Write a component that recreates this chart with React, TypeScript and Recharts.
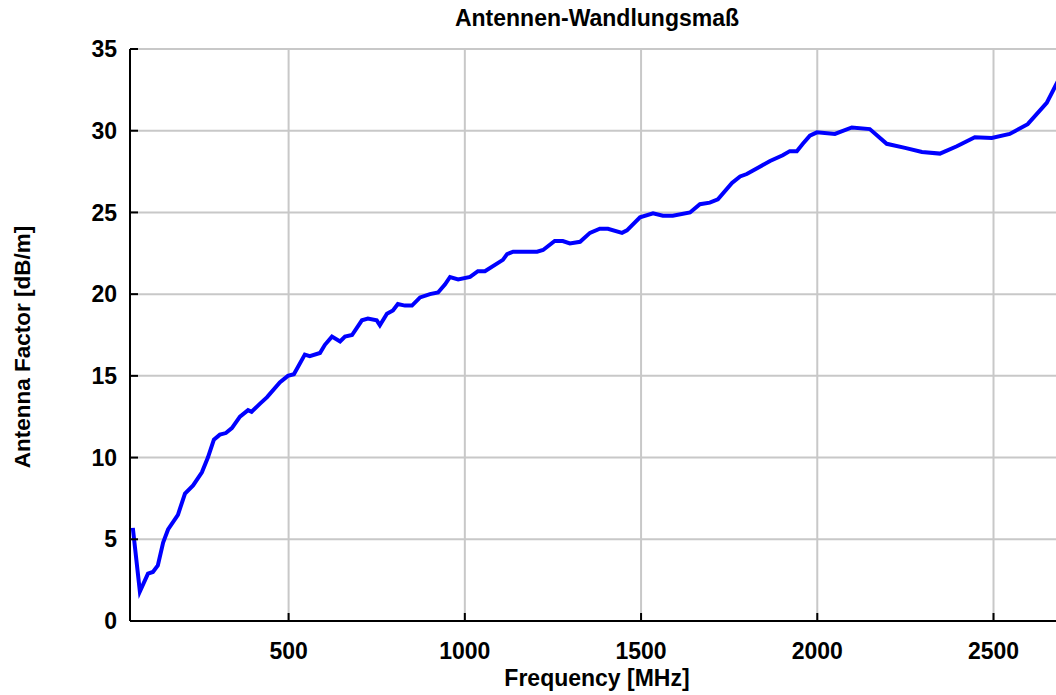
import { LineChart, Line, XAxis, YAxis, CartesianGrid } from "recharts";

const frequencies = [
  58, 78, 101, 115, 129, 144, 158, 186, 206, 229, 254, 271, 288, 305, 322, 339,
  362, 385, 395, 419, 439, 475, 498, 515, 546, 560, 589, 603, 623, 646, 660, 680,
  708, 725, 750, 759, 779, 796, 810, 830, 850, 873, 901, 924, 944, 958, 981,
  1015, 1037, 1057, 1108, 1120, 1137, 1205, 1222, 1255, 1278, 1298, 1327, 1355,
  1383, 1406, 1446, 1460, 1497, 1534, 1562, 1590, 1639, 1667, 1695, 1718, 1758,
  1781, 1800, 1837, 1866, 1902, 1922, 1942, 1959, 1979, 1999, 2050, 2098, 2149,
  2197, 2249, 2297, 2348, 2396, 2447, 2495, 2546, 2597, 2651, 2677, 2700,
];

const antennaFactor = [
  5.7, 1.8, 2.9, 3.0, 3.4, 4.8, 5.6, 6.5, 7.8, 8.3, 9.1, 10.0, 11.1, 11.4, 11.5,
  11.8, 12.5, 12.9, 12.8, 13.3, 13.7, 14.6, 15.0, 15.1, 16.3, 16.2, 16.4, 16.9,
  17.4, 17.1, 17.4, 17.5, 18.4, 18.5, 18.4, 18.1, 18.8, 19.0, 19.4, 19.3, 19.3,
  19.8, 20.0, 20.1, 20.6, 21.05, 20.9, 21.05, 21.4, 21.4, 22.1, 22.45, 22.6,
  22.6, 22.7, 23.25, 23.25, 23.1, 23.2, 23.75, 24.0, 24.0, 23.75, 23.9, 24.7,
  24.95, 24.8, 24.8, 25.0, 25.5, 25.6, 25.8, 26.8, 27.2, 27.35, 27.8, 28.15,
  28.5, 28.75, 28.75, 29.2, 29.7, 29.9, 29.8, 30.2, 30.1, 29.2, 28.95, 28.7,
  28.6, 29.05, 29.6, 29.55, 29.8, 30.4, 31.7, 32.8, 33.7,
];

const xTicks = [500, 1000, 1500, 2000, 2500];
const yTicks = [0, 5, 10, 15, 20, 25, 30, 35];

const data = frequencies.map((f, i) => ({ f, af: antennaFactor[i] }));

const tickStyle = { fontSize: 23, fontWeight: 700, fill: "#000" };

export default function App() {
  return (
    <div
      style={{
        position: "absolute",
        left: 0,
        top: 0,
        width: 1056,
        height: 695,
        overflow: "hidden",
        background: "#fff",
        fontFamily: "'Liberation Sans', Arial, sans-serif",
      }}
    >
      <div
        style={{
          position: "absolute",
          left: 130,
          top: 5,
          width: 934,
          textAlign: "center",
          fontSize: 23,
          fontWeight: 700,
          color: "#000",
        }}
      >
        Antennen-Wandlungsmaß
      </div>
      <LineChart
        width={1080}
        height={695}
        data={data}
        margin={{ top: 49, right: 16, left: 0, bottom: 0 }}
      >
        <CartesianGrid stroke="#c8c8c8" strokeWidth={2} />
        <XAxis
          xAxisId="top"
          orientation="top"
          dataKey="f"
          type="number"
          domain={[50, 2700]}
          ticks={xTicks}
          height={0}
          allowDataOverflow
          axisLine={{ stroke: "#000", strokeWidth: 2 }}
          tickLine={{ stroke: "#000", strokeWidth: 2 }}
          tickSize={-8}
          tickFormatter={() => ""}
        />
        <XAxis
          dataKey="f"
          type="number"
          domain={[50, 2700]}
          ticks={xTicks}
          height={74}
          allowDataOverflow
          axisLine={{ stroke: "#000", strokeWidth: 2 }}
          tickLine={{ stroke: "#000", strokeWidth: 2 }}
          tickSize={-8}
          tickMargin={30}
          tick={tickStyle}
          label={{
            value: "Frequency [MHz]",
            position: "insideBottom",
            offset: 9,
            style: { fontSize: 23, fontWeight: 700, fill: "#000" },
          }}
        />
        <YAxis
          domain={[0, 35]}
          ticks={yTicks}
          width={130}
          allowDataOverflow
          axisLine={{ stroke: "#000", strokeWidth: 2 }}
          tickLine={{ stroke: "#000", strokeWidth: 2 }}
          tickSize={-8}
          tickMargin={21}
          tick={tickStyle}
          label={{
            value: "Antenna Factor [dB/m]",
            angle: -90,
            position: "insideLeft",
            offset: 22,
            dy: 12,
            style: {
              fontSize: 22.5,
              fontWeight: 700,
              fill: "#000",
              textAnchor: "middle",
            },
          }}
        />
        <Line
          type="linear"
          dataKey="af"
          stroke="#0000ff"
          strokeWidth={4}
          dot={false}
          isAnimationActive={false}
        />
      </LineChart>
    </div>
  );
}
